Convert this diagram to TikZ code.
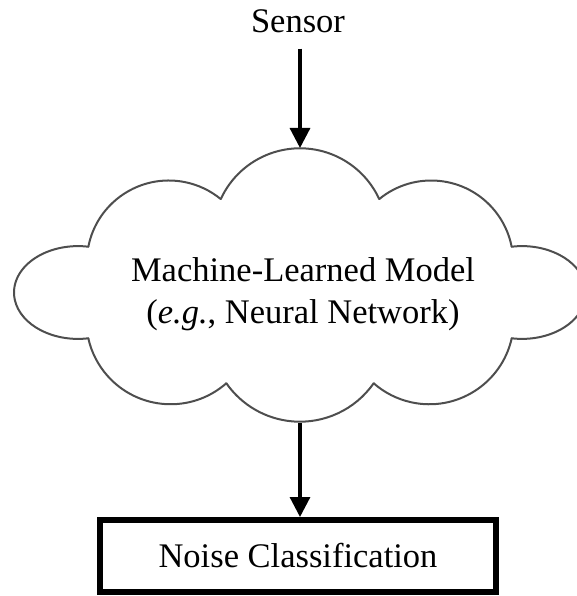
\documentclass[tikz,border=0pt]{standalone}
\usepackage{fontspec}
\setmainfont{Liberation Serif}
\usetikzlibrary{arrows.meta}
\definecolor{cloudgrey}{HTML}{4E4E4E}
\newcommand{\cloudarc}[6]{\draw[lobe] ([shift={({#4*cos(#3)},{#5*sin(#3)})}]#1,#2) arc[start angle=#3, end angle=#6, x radius=#4, y radius=#5];}
\begin{document}
\begin{tikzpicture}[x=1pt,y=-1pt,
  lbl/.style={font=\fontsize{34.5}{41.5}\selectfont, inner sep=0pt},
  lobe/.style={draw=cloudgrey, line width=2pt, line cap=round},
  arr/.style={line width=3.2pt, -{Triangle[width=20pt,length=20pt]}},
  boxed/.style={draw, line width=6pt, minimum width=396pt, minimum height=72pt}]
\clip (0,0) rectangle (577,596);
% cloud outline
\cloudarc{168.8}{262.5}{-168.9}{82}{82}{-50.7}
\cloudarc{300}{235.5}{-155.3}{87.2}{87.2}{-24.7}
\cloudarc{431.2}{262.5}{-129.3}{82}{82}{-11.1}
\cloudarc{522}{292.5}{-99.3}{64}{46.4}{99.3}
\cloudarc{429.35}{319.85}{12.6}{84.4}{84.4}{131.3}
\cloudarc{300}{331.9}{34.9}{89.8}{89.8}{145.1}
\cloudarc{170.65}{319.85}{48.7}{84.4}{84.4}{167.4}
\cloudarc{78}{292.5}{80.7}{64}{46.4}{279.3}
\coordinate (ctop) at (300,148);
\coordinate (cbot) at (300,423);
% texts
\node[lbl, anchor=base] (sensor) at (298,33) {Sensor};
\node[lbl, align=center] (model) at (303,294) {Machine-Learned Model\\(\textit{e.g.}, Neural Network)};
\node[boxed, lbl] (nc) at (298,556) {Noise Classification};
% connectors
\draw[arr] ([yshift=-15pt]sensor.south -| ctop) -- (ctop);
\draw[arr] (cbot) -- (cbot |- nc.north);
\end{tikzpicture}
\end{document}
